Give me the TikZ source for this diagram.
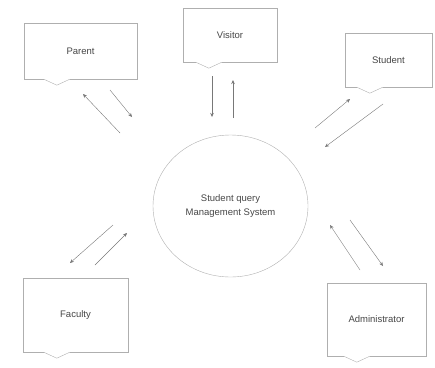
\documentclass[tikz,border=0pt]{standalone}
\usepackage{fontspec}
\setmainfont{Liberation Sans}
\usepackage{tikz}
\usetikzlibrary{positioning, arrows.meta, shapes.geometric, calc}
\definecolor{boxgray}{RGB}{175, 175, 175}
\definecolor{arrowgray}{RGB}{120, 120, 120}
\definecolor{textgray}{RGB}{70, 70, 70}

\tikzset{
  entity/.style={draw=boxgray, fill=white, rectangle, align=center,
                 text=textgray, font=\fontsize{9.5}{12}\selectfont},
  flow/.style={draw=arrowgray, -{Stealth[length=4pt, width=3.5pt]}}
}
% speech-bubble notch under a box: #1 node, #2 offset of the tip from the left side
\newcommand{\notch}[2]{%
  \draw[white, line width=1.2pt] ($(#1.south west)+(#2-13,0)$) -- ($(#1.south west)+(#2+13,0)$);
  \draw[boxgray] ($(#1.south west)+(#2-13,0)$) -- ($(#1.south west)+(#2,6)$) -- ($(#1.south west)+(#2+13,0)$);
}

\begin{document}
\begin{tikzpicture}[x=1pt, y=-1pt]
  \useasboundingbox (0,0) rectangle (435,367);

  % system in the middle
  \node[draw=boxgray, ellipse, minimum width=155pt, minimum height=142pt,
        align=center, text=textgray, font=\fontsize{9.5}{14}\selectfont] (sqms) at (230.5,206)
        {Student query\\Management System};

  % external entities
  \node[entity, minimum width=113pt, minimum height=56pt] (parent)  at (80.5,51)   {Parent};
  \node[entity, minimum width=94pt,  minimum height=54pt] (visitor) at (230,35)    {Visitor};
  \node[entity, minimum width=87pt,  minimum height=54pt] (student) at (388.5,60)  {Student};
  \node[entity, minimum width=105pt, minimum height=74pt] (faculty) at (75.5,315)  {Faculty};
  \node[entity, minimum width=99pt,  minimum height=73pt] (admin)   at (376.5,319.5) {Administrator};

  \notch{parent}{33}
  \notch{visitor}{26}
  \notch{student}{25}
  \notch{faculty}{34}
  \notch{admin}{30}

  % arrow ends
  \coordinate (pa1) at (120,133); \coordinate (pa2) at (83,94);
  \coordinate (pa3) at (110,90);  \coordinate (pa4) at (132,117);
  \coordinate (vi1) at (212,76);  \coordinate (vi2) at (212,117);
  \coordinate (vi3) at (233,118); \coordinate (vi4) at (233,80);
  \coordinate (st1) at (315,128); \coordinate (st2) at (350,99);
  \coordinate (st3) at (383,104); \coordinate (st4) at (325,147);
  \coordinate (fa1) at (113,225); \coordinate (fa2) at (70,263);
  \coordinate (fa3) at (95,265);  \coordinate (fa4) at (127,233);
  \coordinate (ad1) at (360,270); \coordinate (ad2) at (330,225);
  \coordinate (ad3) at (350,220); \coordinate (ad4) at (383,266);

  \draw[flow] (pa1) -- (pa2);
  \draw[flow] (pa3) -- (pa4);
  \draw[flow] (vi1) -- (vi2);
  \draw[flow] (vi3) -- (vi4);
  \draw[flow] (st1) -- (st2);
  \draw[flow] (st3) -- (st4);
  \draw[flow] (fa1) -- (fa2);
  \draw[flow] (fa3) -- (fa4);
  \draw[flow] (ad1) -- (ad2);
  \draw[flow] (ad3) -- (ad4);
\end{tikzpicture}
\end{document}
